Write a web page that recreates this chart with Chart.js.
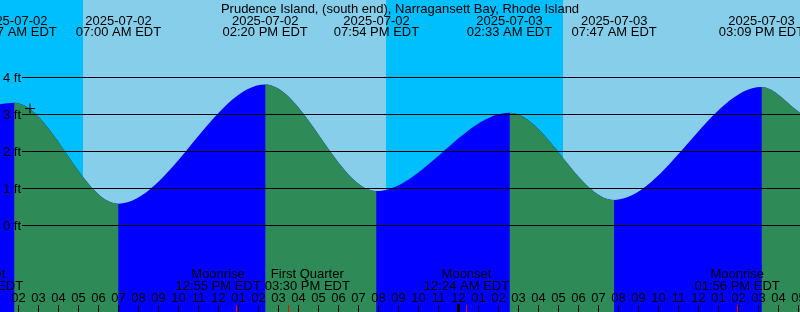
<!DOCTYPE html>
<html>
<head>
<meta charset="utf-8">
<script src="https://cdn.jsdelivr.net/npm/chart.js@4/dist/chart.umd.min.js"></script>
<style>
html,body{margin:0;padding:0;background:#fff;}
#c{display:block;}
</style>
</head>
<body>
<canvas id="c" width="800" height="312"></canvas>
<script>
// ---- data (hours are counted from 2025-07-02 00:00 EDT) ----
const stationTitle = 'Prudence Island, (south end), Narragansett Bay, Rhode Island';
const tideDates = ['2025-07-02','2025-07-02','2025-07-02','2025-07-02','2025-07-03','2025-07-03','2025-07-03'];
const tideClock = ['01:47 AM','07:00 AM','02:20 PM','07:54 PM','02:33 AM','07:47 AM','03:09 PM'];
const tideFeet  = [3.32, 0.59, 3.81, 0.93, 3.05, 0.69, 3.74];
const edgeHours = [1.075, 41.075];
const edgeFeet  = [3.28, 3.05];

const sunDates = ['2025-07-02','2025-07-02','2025-07-03'];
const sunClock = ['05:13 AM','08:22 PM','05:14 AM'];   // sunrise, sunset, sunrise

const moonNames = ['Moonset','Moonrise','First Quarter','Moonset','Moonrise'];
const moonDates = ['2025-07-02','2025-07-02','2025-07-02','2025-07-03','2025-07-03'];
const moonClock = ['12:06 AM','12:55 PM','03:30 PM','12:24 AM','01:56 PM'];

const nowMarkHour = 2.575;
const nowMarkFeet = 3.16;

const feetTicks = [0, 1, 2, 3, 4];

// ---- helpers ----
function toHours(date, clock) {
  const day = parseInt(date.slice(8, 10), 10) - 2;
  const m = clock.match(/(\d+):(\d+) (AM|PM)/);
  let h = parseInt(m[1], 10) % 12;
  if (m[3] === 'PM') h += 12;
  return day * 24 + h + parseInt(m[2], 10) / 60;
}
const tideHours = tideDates.map((d, i) => toHours(d, tideClock[i]));
const sunHours = sunDates.map((d, i) => toHours(d, sunClock[i]));
const moonHours = moonDates.map((d, i) => toHours(d, moonClock[i]));

const curve = [{x: edgeHours[0], y: edgeFeet[0]}]
  .concat(tideHours.map((h, i) => ({x: h, y: tideFeet[i]})))
  .concat([{x: edgeHours[1], y: edgeFeet[1]}]);

const FONT = '13px "Liberation Sans", Arial, sans-serif';
const DAY = '#87CEEB', NIGHT = '#00BFFF', FALL = '#2E8B57', RISE = '#0000FF';

const decor = {
  id: 'decor',
  beforeDatasetsDraw(chart) {
    const {ctx, chartArea: a, scales: {x}} = chart;
    const edges = [x.min].concat(sunHours).concat([x.max]);
    ctx.save();
    for (let i = 0; i < edges.length - 1; i++) {
      const x0 = Math.round(x.getPixelForValue(edges[i]));
      const x1 = Math.round(x.getPixelForValue(edges[i + 1]));
      ctx.fillStyle = (i % 2 === 0) ? NIGHT : DAY;
      ctx.fillRect(x0, a.top, x1 - x0, a.bottom - a.top);
    }
    ctx.restore();
  },
  afterDatasetsDraw(chart) {
    const {ctx, chartArea: a, scales: {x, y}} = chart;
    ctx.save();
    // horizontal grid lines and labels
    ctx.strokeStyle = '#000';
    ctx.lineWidth = 1;
    ctx.font = FONT;
    ctx.fillStyle = '#000';
    ctx.textAlign = 'left';
    ctx.textBaseline = 'alphabetic';
    feetTicks.forEach(f => {
      const py = Math.floor(y.getPixelForValue(f)) + 0.5;
      ctx.beginPath();
      ctx.moveTo(22, py);
      ctx.lineTo(a.right, py);
      ctx.stroke();
      ctx.fillText(f + ' ft', 3, py + 4.5);
    });
    // top title and tide labels
    ctx.textAlign = 'center';
    ctx.fillText(stationTitle, 400, 13);
    tideHours.forEach((h, i) => {
      const px = x.getPixelForValue(h);
      ctx.fillText(tideDates[i], px, 25);
      ctx.fillText(tideClock[i] + ' EDT', px, 36);
    });
    // hour ticks and labels
    for (let h = Math.ceil(x.min); h <= Math.floor(x.max); h++) {
      const px = Math.floor(x.getPixelForValue(h));
      const hh = (h % 12) || 12;
      ctx.fillText(String(hh).padStart(2, '0'), px + 0.5, 302);
      ctx.fillStyle = '#000';
      if (h % 24 === 0) ctx.fillRect(px - 1, 304, 3, 8);
      else ctx.fillRect(px, 305, 1, 7);
    }
    // moon events
    ctx.fillStyle = '#f00';
    moonHours.forEach(h => {
      const px = Math.floor(x.getPixelForValue(h));
      ctx.fillRect(px, 305, 1, 7);
    });
    ctx.fillStyle = '#000';
    const items = moonHours.map((h, i) => {
      const l2 = moonClock[i] + ' EDT';
      const w = Math.max(ctx.measureText(moonNames[i]).width, ctx.measureText(l2).width);
      return {c: x.getPixelForValue(h), w, l1: moonNames[i], l2};
    });
    for (let pass = 0; pass < 5; pass++) {
      for (let i = 0; i < items.length - 1; i++) {
        const A = items[i], B = items[i + 1];
        const need = (A.w + B.w) / 2 + 4;
        const gap = B.c - A.c;
        if (gap < need) { const d = (need - gap) / 2; A.c -= d; B.c += d; }
      }
    }
    items.forEach(it => {
      ctx.fillText(it.l1, it.c, 278);
      ctx.fillText(it.l2, it.c, 290);
    });
    ctx.restore();
  }
};

new Chart(document.getElementById('c'), {
  type: 'line',
  data: {
    datasets: [
      {
        data: curve,
        borderWidth: 0,
        borderColor: 'rgba(0,0,0,0)',
        pointRadius: 0,
        fill: 'start',
        cubicInterpolationMode: 'monotone',
        backgroundColor: RISE,
        order: 3
      },
      {
        data: curve,
        borderWidth: 0,
        borderColor: 'rgba(0,0,0,0)',
        pointRadius: 0,
        fill: 'start',
        cubicInterpolationMode: 'monotone',
        backgroundColor: FALL,
        segment: {
          backgroundColor: c => (c.p1.parsed.y < c.p0.parsed.y ? FALL : 'rgba(0,0,0,0)')
        },
        order: 2
      },
      {
        type: 'scatter',
        data: [{x: nowMarkHour, y: nowMarkFeet}],
        pointStyle: 'cross',
        pointRadius: 5,
        borderColor: '#000',
        borderWidth: 1,
        showLine: false,
        order: 1
      }
    ]
  },
  options: {
    responsive: false,
    devicePixelRatio: 1,
    animation: false,
    layout: {padding: 0, autoPadding: false},
    plugins: {legend: {display: false}, tooltip: {enabled: false}, title: {display: false}},
    events: [],
    scales: {
      x: {type: 'linear', min: 1.075, max: 41.075, display: false},
      y: {type: 'linear', min: -2.3378, max: 6.0946, display: false}
    }
  },
  plugins: [decor]
});
</script>
</body>
</html>
